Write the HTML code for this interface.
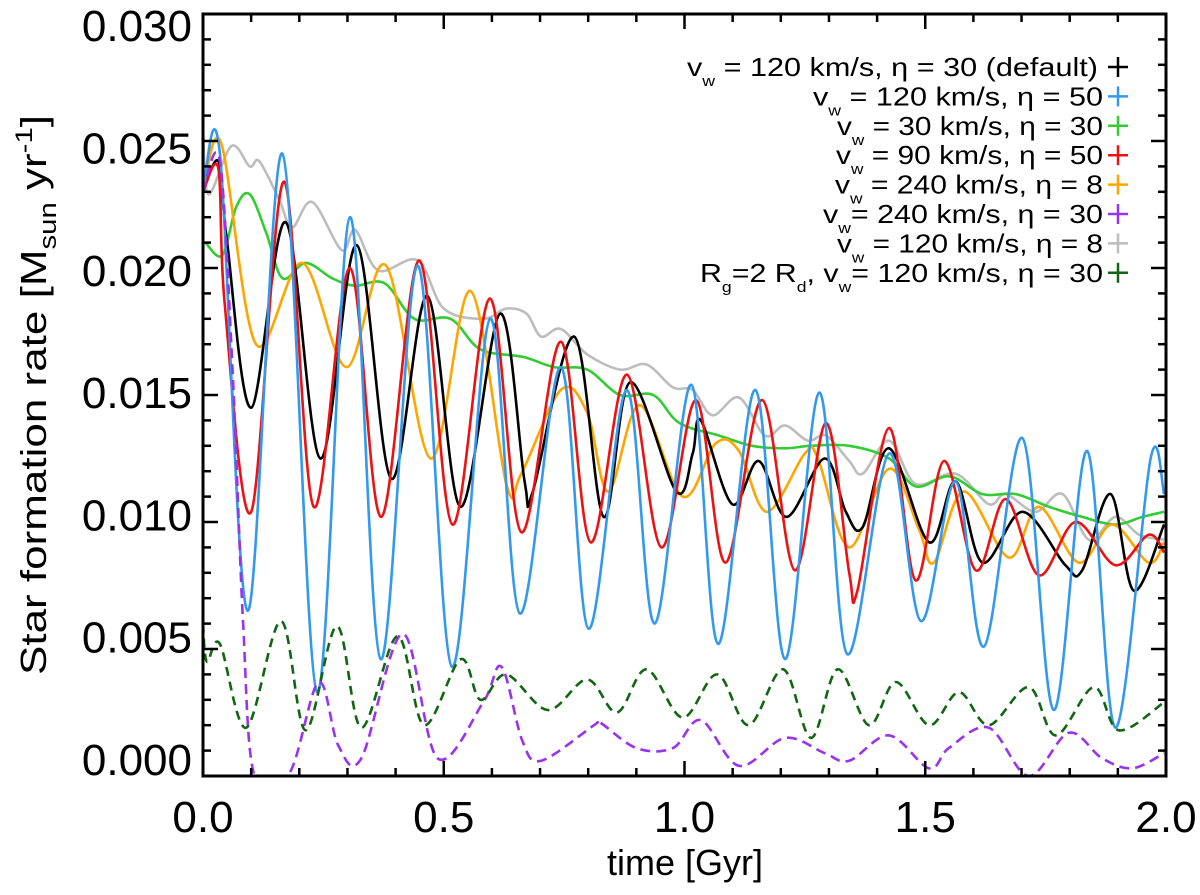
<!DOCTYPE html>
<html><head><meta charset="utf-8">
<style>
html,body{margin:0;padding:0;background:#fff;}
svg{display:block;font-family:"Liberation Sans",sans-serif;}
</style></head>
<body>
<svg id="chart" width="1200" height="895" viewBox="0 0 1200 895" xmlns="http://www.w3.org/2000/svg">
<defs><clipPath id="pc"><rect x="203" y="14" width="963" height="762"/></clipPath></defs>
<g id="lines" clip-path="url(#pc)"></g>
<g id="axes"></g>
<text x="685" y="875" font-size="36" text-anchor="middle">time [Gyr]</text>
<text transform="translate(46,395) rotate(-90)" font-size="36" text-anchor="middle" textLength="560" lengthAdjust="spacingAndGlyphs">Star formation rate [M<tspan font-size="24" dy="10">sun</tspan><tspan dy="-10"> yr</tspan><tspan font-size="24" dy="-14">-1</tspan><tspan dy="14">]</tspan></text>
<g id="legend"></g>
</svg>
<script>
// ---- data (values in units of 0.001 Msun/yr) ----
const xTicks = [0.0, 0.5, 1.0, 1.5, 2.0];
const xTickLabels = ["0.0", "0.5", "1.0", "1.5", "2.0"];
const yTicks = [0, 5, 10, 15, 20, 25, 30];
const yTickLabels = ["0.000", "0.005", "0.010", "0.015", "0.020", "0.025", "0.030"];

const blackT = [0,0.032,0.049,0.100,0.172,0.244,0.319,0.391,0.466,0.535,0.617,0.668,0.685,0.771,0.832,0.887,0.983,1.017,1.034,1.099,1.154,1.212,1.291,1.335,1.370,1.425,1.508,1.563,1.619,1.702,1.791,1.826,1.885,1.933,1.996];
const blackV = [23.0,24.2,21.2,14.5,21.8,12.5,20.9,11.7,18.9,10.6,18.2,11.6,11.2,17.3,10.2,15.5,11.2,12.7,14.0,10.7,12.4,10.2,12.5,10.4,9.8,12.9,9.2,11.6,8.4,10.4,8.3,8.1,11.1,7.3,9.9];

const blueT = [0,0.035,0.093,0.165,0.237,0.305,0.369,0.446,0.517,0.596,0.658,0.743,0.801,0.880,0.938,1.014,1.070,1.147,1.209,1.280,1.338,1.425,1.491,1.563,1.622,1.702,1.767,1.836,1.895,1.968,1.996];
const blueV = [23.0,24.5,6.5,24.5,3.3,22.0,4.6,20.1,4.3,18.0,6.4,16.1,5.8,15.2,6.0,15.4,5.2,15.2,4.6,15.1,4.8,12.7,6.1,11.6,5.1,13.3,2.6,12.8,1.9,12.5,11.1];

const greenT = [0.005,0.04,0.069,0.097,0.131,0.165,0.213,0.268,0.315,0.377,0.439,0.514,0.576,0.665,0.729,0.798,0.866,0.935,0.989,1.072,1.140,1.209,1.263,1.342,1.425,1.480,1.550,1.619,1.688,1.757,1.826,1.895,1.951,1.996];
const greenV = [21.0,20.5,22.4,22.9,21.4,19.6,20.2,19.6,19.3,19.4,18.0,18.0,16.8,16.5,16.1,16.0,15.0,15.0,13.9,13.4,13.0,12.9,13.0,13.0,12.5,11.4,11.8,11.1,11.1,10.6,10.2,9.9,10.2,10.4];

const redT = [0,0.032,0.045,0.100,0.168,0.230,0.305,0.370,0.449,0.518,0.596,0.661,0.743,0.805,0.880,0.952,1.024,1.085,1.161,1.229,1.294,1.342,1.359,1.425,1.480,1.539,1.605,1.667,1.736,1.812,1.895,1.964,1.996];
const redV = [23.0,23.9,18.6,10.4,23.4,10.6,20.0,10.2,20.3,9.9,18.8,9.6,17.1,9.2,15.8,9.0,14.8,8.4,14.8,8.1,13.9,8.0,7.3,13.7,7.7,12.4,8.1,10.9,7.9,10.0,8.3,9.5,8.8];

const orangeT = [0,0.038,0.110,0.206,0.298,0.380,0.473,0.555,0.630,0.661,0.743,0.798,0.842,0.907,0.996,1.065,1.113,1.171,1.250,1.277,1.342,1.425,1.487,1.518,1.580,1.674,1.736,1.819,1.888,1.964,1.996];
const orangeV = [23.0,24.9,17.0,20.2,16.1,20.1,12.5,19.1,11.5,11.9,15.2,14.3,11.2,14.6,11.0,13.1,12.8,10.4,12.7,12.5,9.0,12.1,9.7,8.4,11.2,8.6,10.6,8.4,9.9,8.4,9.2];

const purpleT = [0,0.035,0.062,0.083,0.107,0.179,0.240,0.281,0.329,0.415,0.487,0.582,0.620,0.663,0.702,0.812,0.825,0.900,0.976,1.034,1.113,1.209,1.291,1.342,1.425,1.508,1.549,1.632,1.715,1.798,1.867,1.930,1.996];
const purpleV = [23.0,24.2,15.7,6.1,0.0,0.1,3.7,1.2,0.7,5.6,0.7,2.9,4.3,1.4,0.6,2.0,2.1,1.1,1.1,2.2,0.4,1.5,0.9,0.6,1.6,0.3,1.1,1.9,0.0,1.7,0.7,0.3,0.9];

const grayT = [0,0.011,0.059,0.097,0.117,0.158,0.185,0.227,0.288,0.316,0.364,0.446,0.500,0.582,0.630,0.672,0.702,0.743,0.798,0.866,0.921,0.976,1.017,1.058,1.113,1.167,1.209,1.256,1.294,1.342,1.370,1.425,1.480,1.563,1.632,1.667,1.729,1.785,1.840,1.895,1.944,1.996];
const grayV = [25.5,22.9,24.8,24.0,24.2,22.7,21.6,22.6,20.7,21.5,19.9,20.3,18.4,18.0,18.4,18.2,17.3,17.6,16.6,16.0,16.2,15.3,15.2,14.2,14.9,13.4,13.8,13.2,13.4,12.4,11.9,13.2,11.5,11.9,10.7,11.1,10.4,11.1,9.3,10.2,9.5,9.3];

const dgreenT = [0,0.008,0.035,0.090,0.162,0.213,0.278,0.329,0.404,0.459,0.535,0.576,0.630,0.716,0.798,0.860,0.921,0.996,1.068,1.133,1.205,1.263,1.318,1.383,1.439,1.508,1.570,1.632,1.715,1.771,1.850,1.902,1.996];
const dgreenV = [6.0,4.5,5.2,1.9,6.1,1.8,5.9,1.9,5.5,2.0,4.6,3.0,4.0,2.6,3.8,2.5,4.2,2.3,4.0,2.0,4.2,1.5,4.2,2.0,3.7,2.0,3.3,2.0,3.5,1.6,3.5,1.8,2.9];

// ---- scales ----
const X0 = 203, X1 = 1166, Y0 = 776, Y1 = 14;
function xs(t){ return X0 + (t - 0) / 2.0 * (X1 - X0); }
function ys(v){ return Y0 - (v - 0) / 30 * (Y0 - Y1); }

const NS = "http://www.w3.org/2000/svg";
function mk(tag, attrs, parent){
  const e = document.createElementNS(NS, tag);
  for (const k in attrs) e.setAttribute(k, attrs[k]);
  parent.appendChild(e);
  return e;
}

function smoothPath(T, V){
  const p = T.map((t,i)=>[xs(t), ys(V[i])]);
  let d = "M" + p[0][0].toFixed(1) + "," + p[0][1].toFixed(1);
  for (let i=0;i<p.length-1;i++){
    const a = p[Math.max(0,i-1)], b = p[i], c = p[i+1], e = p[Math.min(p.length-1,i+2)];
    const c1x = b[0] + (c[0]-a[0])/6, c1y = b[1] + (c[1]-a[1])/6;
    const c2x = c[0] - (e[0]-b[0])/6, c2y = c[1] - (e[1]-b[1])/6;
    d += " C" + c1x.toFixed(1)+","+c1y.toFixed(1)+" "+c2x.toFixed(1)+","+c2y.toFixed(1)+" "+c[0].toFixed(1)+","+c[1].toFixed(1);
  }
  return d;
}

const lines = document.getElementById("lines");
const series = [
  {n:"series-gray-120kms-eta8", t:grayT, v:grayV, c:"#bdbdbd", dash:null},
  {n:"series-green-30kms-eta30", t:greenT, v:greenV, c:"#33cc33", dash:null},
  {n:"series-orange-240kms-eta8", t:orangeT, v:orangeV, c:"#ffa500", dash:null},
  {n:"series-black-default", t:blackT, v:blackV, c:"#000000", dash:null},
  {n:"series-red-90kms-eta50", t:redT, v:redV, c:"#ee1111", dash:null},
  {n:"series-blue-120kms-eta50", t:blueT, v:blueV, c:"#3399ee", dash:null},
  {n:"series-purple-240kms-eta30", t:purpleT, v:purpleV, c:"#9933ee", dash:"10,6"},
  {n:"series-darkgreen-rg2rd", t:dgreenT, v:dgreenV, c:"#116611", dash:"9,6"}
];
series.forEach(s=>{
  const el = mk("path", {d: smoothPath(s.t, s.v), fill:"none", stroke:s.c, "stroke-width":"2.6", "stroke-linejoin":"round"}, lines);
  if (s.dash) el.setAttribute("stroke-dasharray", s.dash);
  
  
});

// ---- axes ----
const axes = document.getElementById("axes");
const frame = mk("rect", {x:X0, y:Y1, width:X1-X0, height:Y0-Y1, fill:"none", stroke:"#000", "stroke-width":"3"}, axes);


for (let i=0;i<=20;i++){
  const t = i*0.1, x = xs(t), L = (i%5===0)?15:8;
  const b = mk("line", {x1:x, y1:Y0, x2:x, y2:Y0-L, stroke:"#000", "stroke-width":"2.5"}, axes);
  
  
  const tp = mk("line", {x1:x, y1:Y1, x2:x, y2:Y1+L, stroke:"#000", "stroke-width":"2.5"}, axes);
  
  
}
for (let i=0;i<=30;i++){
  const y = ys(i), L = (i%5===0)?15:8;
  const l = mk("line", {x1:X0, y1:y, x2:X0+L, y2:y, stroke:"#000", "stroke-width":"2.5"}, axes);
  
  
  const r = mk("line", {x1:X1, y1:y, x2:X1-L, y2:y, stroke:"#000", "stroke-width":"2.5"}, axes);
  
  
}
xTicks.forEach((t,i)=>{
  const tx = mk("text", {x:xs(t), y:832, "font-size":"44", "text-anchor":"middle"}, axes);
  tx.textContent = xTickLabels[i];
  
  
});
yTicks.forEach((v,i)=>{
  const yc = 759 - i*122.3;
  const tx = mk("text", {x:192, y:yc+16, "font-size":"44", "text-anchor":"end"}, axes);
  tx.textContent = yTickLabels[i];
  
  
});

// ---- legend ----
const legend = document.getElementById("legend");
const legRows = [
  {pre:"v", sub:"w", post:" = 120 km/s, η = 30 (default)", c:"#000000", x0:687, x1:1098},
  {pre:"v", sub:"w", post:" = 120 km/s, η = 50", c:"#3399ee", x0:813, x1:1103},
  {pre:"v", sub:"w", post:" = 30 km/s, η = 30", c:"#33cc33", x0:837, x1:1103},
  {pre:"v", sub:"w", post:" = 90 km/s, η = 50", c:"#ee1111", x0:836, x1:1103},
  {pre:"v", sub:"w", post:" = 240 km/s, η = 8", c:"#ffa500", x0:835, x1:1103},
  {pre:"v", sub:"w", post:"= 240 km/s, η = 30", c:"#9933ee", x0:823, x1:1103},
  {pre:"v", sub:"w", post:" = 120 km/s, η = 8", c:"#bdbdbd", x0:837, x1:1103},
  {pre:"R", sub:"g", post:"=2 R", sub2:"d", post2:", v", sub3:"w", post3:"= 120 km/s, η = 30", c:"#116611", x0:700, x1:1103}
];
legRows.forEach((r,i)=>{
  const y = 67 + i*29.4;
  const g = mk("g", {}, legend);
  
  
  const tx = mk("text", {x:r.x0, y:y+9, "font-size":"26", textLength:(r.x1-r.x0), lengthAdjust:"spacingAndGlyphs"}, g);
  let html = r.pre + '<tspan font-size="15" dy="10">' + r.sub + '</tspan><tspan dy="-10">' + r.post + '</tspan>';
  if (r.sub2) html += '<tspan font-size="15" dy="10">' + r.sub2 + '</tspan><tspan dy="-10">' + r.post2 + '</tspan><tspan font-size="15" dy="10">' + r.sub3 + '</tspan><tspan dy="-10">' + r.post3 + '</tspan>';
  tx.innerHTML = html;
  const ph = mk("line", {x1:1108, y1:y, x2:1128, y2:y, stroke:r.c, "stroke-width":"2.5"}, g);
  
  
  const pv = mk("line", {x1:1118, y1:y-10, x2:1118, y2:y+10, stroke:r.c, "stroke-width":"2.5"}, g);
  
  
});
</script>
</body></html>
